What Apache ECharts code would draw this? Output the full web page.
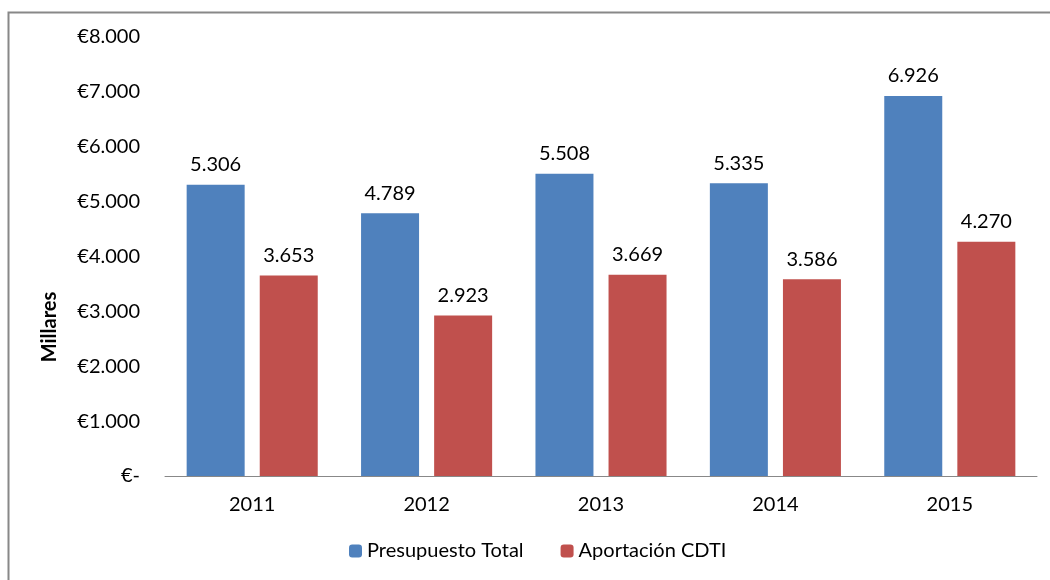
<!DOCTYPE html>
<html><head><meta charset="utf-8">
<script src="https://cdn.jsdelivr.net/npm/echarts@6/dist/echarts.min.js"></script>
<style>html,body{margin:0;padding:0;background:#fff}#c{width:1050px;height:580px}</style>
</head><body><div id="c"></div>
<script>
const categories = ['2011','2012','2013','2014','2015'];
const presupuestoTotal = [5306, 4789, 5508, 5335, 6926];
const aportacionCDTI = [3653, 2923, 3669, 3586, 4270];
const yTicks = [0,1000,2000,3000,4000,5000,6000,7000,8000];

function fmt(v){ return String(v).replace(/\B(?=(\d{3})+(?!\d))/g,'.'); }
const FONT = 'Lato, "Open Sans", sans-serif';
const FS = 20;
const chart = echarts.init(document.getElementById('c'));
chart.setOption({
  animation:false,
  textStyle:{fontFamily:FONT},
  graphic:[
    {type:'rect',shape:{x:8.5,y:12.5,width:1060,height:600},style:{fill:'none',stroke:'#888',lineWidth:2}},
    {type:'text',x:50,y:327,rotation:Math.PI/2,style:{text:'Millares',font:'bold 20px '+FONT,fill:'#000',align:'center',verticalAlign:'middle'}}
  ],
  grid:{left:165,right:13,top:37,bottom:104},
  legend:{bottom:14,left:344,itemWidth:13,itemHeight:13,itemGap:37,
    textStyle:{fontSize:FS,color:'#000',fontFamily:FONT},
    data:['Presupuesto Total','Aportación CDTI']},
  xAxis:{type:'category',data:categories,
    axisLine:{lineStyle:{color:'#888',width:1}},axisTick:{show:false},
    axisLabel:{color:'#000',fontSize:FS,margin:19}},
  yAxis:{type:'value',min:0,max:8000,interval:1000,
    axisLine:{show:false},axisTick:{show:false},splitLine:{show:false},
    axisLabel:{color:'#000',fontSize:FS,margin:25,
      formatter:v=> yTicks.includes(v) ? (v===0?'€-':'€'+fmt(v)) : ''}},
  series:[
    {name:'Presupuesto Total',type:'bar',data:presupuestoTotal,barWidth:58,barGap:'26%',
     itemStyle:{color:'#4F81BD'},
     label:{show:true,position:'top',distance:10,color:'#000',fontSize:FS,formatter:p=>fmt(p.value)}},
    {name:'Aportación CDTI',type:'bar',data:aportacionCDTI,barWidth:58,
     itemStyle:{color:'#C0504D'},
     label:{show:true,position:'top',distance:10,color:'#000',fontSize:FS,formatter:p=>fmt(p.value)}}
  ]
});
</script></body></html>
